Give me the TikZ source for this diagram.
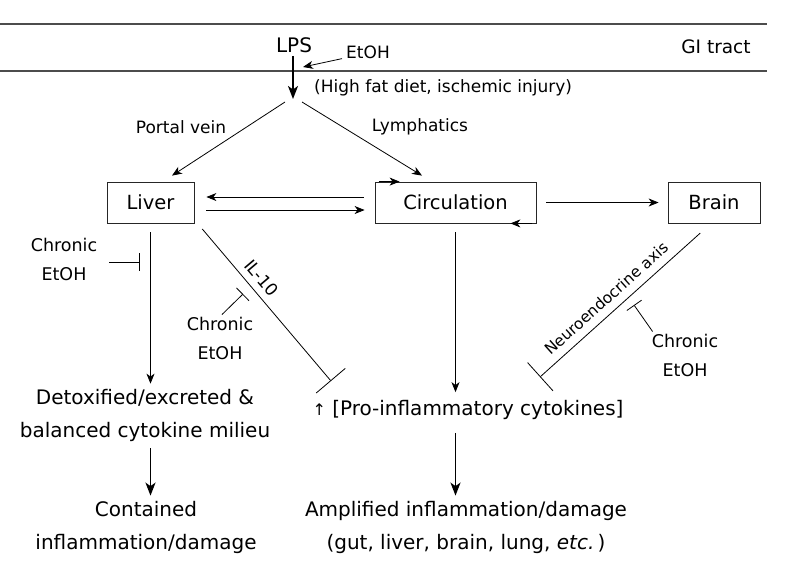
\documentclass[tikz,border=0pt]{standalone}
\usepackage{fontspec}
\setmainfont{DejaVu Sans}
\usetikzlibrary{arrows.meta, positioning, calc}
\tikzset{
    organbox/.style={rectangle, minimum height=41pt, text centered, draw=black!85,
        line width=0.8pt, font=\fontsize{19.5}{24}\selectfont},
    bigtext/.style={align=center, inner sep=0pt, font=\fontsize{20}{33}\selectfont},
    chrontext/.style={align=center, inner sep=0pt, font=\fontsize{17.5}{29}\selectfont},
    smalltext/.style={inner sep=0pt, font=\fontsize{17}{20}\selectfont},
    flowarrow/.style={-{Stealth[length=10pt, width=8pt, inset=3pt]}, line width=0.8pt},
    bigarrow/.style={-{Stealth[length=13pt, width=10pt, inset=3.5pt]}, line width=1.8pt},
    blockline/.style={-{Bar[width=18pt]}, line width=0.8pt},
    longblock/.style={-{Bar[width=38pt]}, line width=0.8pt},
    guttrack/.style={draw=black!70, line width=1.2pt},
}
\begin{document}
\begin{tikzpicture}[x=1pt, y=-1pt]
    \useasboundingbox (0,0) rectangle (787,574);
    % GI tract wall
    \draw[guttrack] (0,24) -- (767,24);
    \draw[guttrack] (0,71) -- (767,71);
    \node[smalltext, font=\fontsize{18.5}{20}\selectfont] (gi) at (716,47) {GI tract};

    \node[smalltext, font=\fontsize{20}{24}\selectfont] (lps) at (294,45) {LPS};
    \node[smalltext] (etoh) at (368,52) {EtOH};
    \node[smalltext, anchor=west] (diet) at (314,88) {(High fat diet, ischemic injury)};
    \coordinate (etohtip) at (303,67);
    \coordinate (split) at (293,99);
    \draw[flowarrow] ([xshift=-4pt]etoh.south west) -- (etohtip);
    \draw[bigarrow, shorten <=3pt] (lps.south -| split) -- (split);

    % organs
    \node[organbox, minimum width=87pt] (liver) at (150.5,202.5) {Liver};
    \node[organbox, minimum width=161pt] (circ) at (455.5,202.5) {Circulation};
    \node[organbox, minimum width=92pt] (brain) at (714,202.5) {Brain};
    \node[smalltext] (portal) at (181,127) {Portal vein};
    \node[smalltext] (lymph) at (420,127) {Lymphatics};

    \draw[flowarrow] ([xshift=-8pt, yshift=-3pt]split) -- ([xshift=21.5pt, yshift=6pt]liver.north);
    \draw[flowarrow] ([xshift=9pt, yshift=-3pt]split) -- ([xshift=-33.5pt, yshift=6pt]circ.north);
    \draw[flowarrow, shorten <=11pt, shorten >=12pt] ([yshift=5.5pt]circ.west) -- ([yshift=5.5pt]liver.east);
    \draw[flowarrow, shorten <=12pt, shorten >=10pt] ([yshift=-7.5pt]liver.east) -- ([yshift=-7.5pt]circ.west);
    \draw[flowarrow, shorten <=10pt, shorten >=9pt] (circ.east) -- (brain.west);
    % flow marks on the circulation box
    \draw[flowarrow] ([xshift=4pt]circ.north west) -- ([xshift=25pt]circ.north west);
    \draw[flowarrow] ([xshift=-4pt]circ.south east) -- ([xshift=-26pt]circ.south east);

    % outcomes
    \node[bigtext] (detox) at (145,415) {Detoxified/excreted \&\\balanced cytokine milieu};
    \node[bigtext] (contained) at (146,527) {Contained\\inflammation/damage};
    \node[bigtext] (cyto) at (468,410) {{\fontsize{16}{16}\selectfont ↑} [Pro-inflammatory cytokines]};
    \node[bigtext] (amplified) at (466,527) {Amplified inflammation/damage\\(gut, liver, brain, lung, \textit{etc.}\,)};

    \draw[flowarrow, shorten <=9pt, shorten >=5pt] (liver.south) -- (liver.south |- detox.north);
    \draw[flowarrow, shorten <=9pt, shorten >=8pt] (circ.south) -- (circ.south |- cyto.north);
    \draw[bigarrow, shorten <=7pt, shorten >=5pt] (detox.south -| liver.south) -- (contained.north -| liver.south);
    \draw[bigarrow, shorten <=13pt, shorten >=5pt] (cyto.south -| circ.south) -- (amplified.north -| circ.south);

    % inhibition
    \coordinate (hitIL) at (331,381);
    \coordinate (hitN) at (540,377);
    \draw[longblock, shorten <=6pt] ([xshift=4pt, yshift=-1pt]liver.south east) -- node[pos=0.4, sloped, above=7pt, inner sep=0pt, font=\fontsize{17}{20}\selectfont] {IL-10} (hitIL);
    \draw[longblock, shorten <=1pt] ([xshift=-13pt, yshift=-9pt]brain.south) -- node[pos=0.53, sloped, above=8pt, inner sep=0pt, font=\fontsize{15.5}{20}\selectfont] {Neuroendocrine axis} (hitN);

    \node[chrontext] (chronL) at (64,259) {Chronic\\EtOH};
    \node[chrontext] (chronM) at (220,338) {Chronic\\EtOH};
    \node[chrontext] (chronR) at (685,355) {Chronic\\EtOH};
    \coordinate (hitL) at (140,262);
    \coordinate (hitM) at (243,294);
    \coordinate (hitR) at (634,305);
    \draw[blockline] ([xshift=12pt, yshift=-3pt]chronL.east) -- (hitL);
    \draw[blockline] ([xshift=2pt, yshift=2pt]chronM.north) -- (hitM);
    \draw[blockline] ([xshift=1pt, yshift=2pt]chronR.north west) -- (hitR);
\end{tikzpicture}
\end{document}
